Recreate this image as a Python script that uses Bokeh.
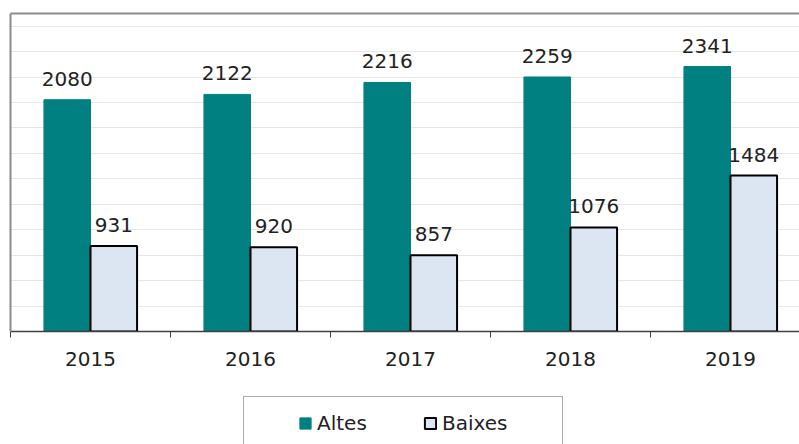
from bokeh.plotting import figure
from bokeh.layouts import column
from bokeh.models import Range1d, FixedTicker, LinearAxis, Legend, LegendItem, ColumnDataSource
from bokeh.core.properties import value
from bokeh.embed import file_html
from bokeh.resources import INLINE

years = ["2015", "2016", "2017", "2018", "2019"]
altes = [2080, 2122, 2216, 2259, 2341]
baixes = [931, 920, 857, 1076, 1484]

FONT = "DejaVu Sans"
TEAL = "#008080"
LIGHT = "#DCE6F2"
y_start, y_span, grid_step = 258, 2500, 200
bar_w = 0.291

idx = list(range(len(years)))
centers = [i + 0.5 for i in idx]
x_alt = [c - bar_w / 2 for c in centers]
x_bai = [c + bar_w / 2 for c in centers]

src_a = ColumnDataSource(dict(x=x_alt, top=altes, lab=[str(v) for v in altes]))
src_b = ColumnDataSource(dict(x=x_bai, top=baixes, lab=[str(v) for v in baixes]))

p = figure(width=799, height=380,
           x_range=Range1d(0, 789 / 160), y_range=Range1d(y_start, y_start + y_span),
           output_backend="svg", toolbar_location=None,
           min_border_left=10, min_border_right=0, min_border_top=13, min_border_bottom=49)
p.outline_line_color = None

p.vbar(x="x", top="top", bottom=y_start, width=bar_w, source=src_a,
       fill_color=TEAL, line_color=TEAL, line_width=1)
p.vbar(x="x", top="top", bottom=y_start, width=bar_w, source=src_b,
       fill_color=LIGHT, line_color="black", line_width=2)

for s in (src_a, src_b):
    p.text(x="x", y="top", text="lab", source=s, text_align="center",
           text_baseline="alphabetic", y_offset=-21,
           text_font=value(FONT), text_font_size="20px", text_color="#222222")

# grid
p.xgrid.visible = False
p.ygrid.ticker = FixedTicker(ticks=[y_start + grid_step * k for k in range(1, 13)])
p.ygrid.grid_line_color = "#e6e6e6"
p.ygrid.grid_line_width = 1

# x axis
xa = p.xaxis[0]
xa.ticker = FixedTicker(ticks=centers, minor_ticks=[i for i in range(len(years) + 1)])
xa.major_label_overrides = {c: y for c, y in zip(centers, years)}
xa.major_tick_line_color = None
xa.major_tick_out = 0
xa.major_tick_in = 0
xa.minor_tick_out = 6
xa.minor_tick_in = 0
xa.minor_tick_line_color = "#404040"
xa.axis_line_color = "#404040"
xa.axis_line_width = 1.5
xa.major_label_standoff = 14
xa.major_label_text_font = FONT
xa.major_label_text_font_size = "20px"
xa.major_label_text_color = "#222222"

# left border (axis without ticks)
ya = p.yaxis[0]
ya.ticker = FixedTicker(ticks=[])
ya.axis_line_color = "#8c8c8c"
ya.axis_line_width = 2
ya.major_tick_out = 0
ya.major_tick_in = 0
ya.minor_tick_out = 0
ya.minor_tick_in = 0
ya.major_label_standoff = 0
ya.major_label_text_font_size = "0px"

# top border
top_ax = LinearAxis(ticker=FixedTicker(ticks=[]), axis_line_color="#8c8c8c", axis_line_width=2,
                    major_tick_out=0, major_tick_in=0, minor_tick_out=0, minor_tick_in=0,
                    major_label_standoff=0, major_label_text_font_size="0px")
p.add_layout(top_ax, "above")

# legend strip (legend box runs past the bottom edge, as in the reference)
pl = figure(width=799, height=64, x_range=Range1d(-4.05, 9.05), y_range=Range1d(3000, 4000),
            output_backend="svg", toolbar_location=None,
            min_border_left=0, min_border_right=0, min_border_top=0, min_border_bottom=0)
pl.axis.visible = False
pl.grid.visible = False
pl.outline_line_color = None
# same series, lying below this strip's visible range (behind the legend): only swatches show
la = pl.vbar(x="x", top="top", bottom=y_start, width=bar_w, source=src_a,
             fill_color=TEAL, line_color=TEAL, line_width=1)
lb = pl.vbar(x="x", top="top", bottom=y_start, width=bar_w, source=src_b,
             fill_color=LIGHT, line_color="black", line_width=2)

legend = Legend(items=[LegendItem(label="Altes", renderers=[la]),
                       LegendItem(label="Baixes", renderers=[lb])],
                orientation="horizontal", location=(233, -6), margin=0,
                title=" ", title_location="left", title_standoff=26,
                title_text_font_size="12px",
                padding=14, spacing=0, label_standoff=5, label_width=106,
                glyph_width=14, glyph_height=14,
                label_text_font=FONT, label_text_font_size="20px", label_text_color="#222222",
                border_line_color="#595959", border_line_width=1.5,
                background_fill_color="white", background_fill_alpha=1)
pl.add_layout(legend, "center")

layout = column(p, pl, spacing=0)
open("out.html", "w").write(file_html(layout, INLINE))
